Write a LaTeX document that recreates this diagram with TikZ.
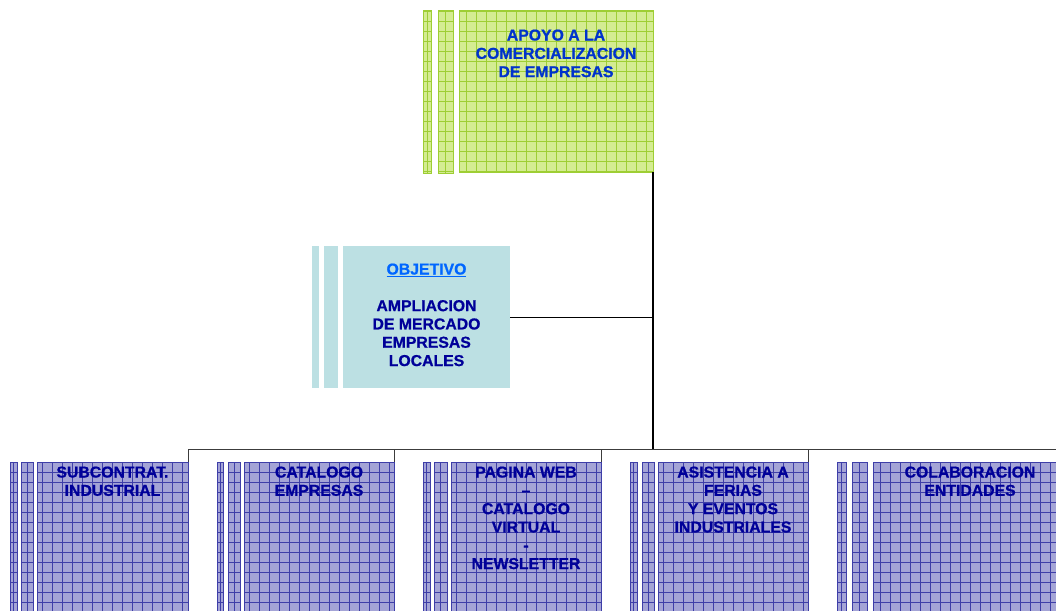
\documentclass[tikz,border=0pt]{standalone}
\usepackage{fontspec}
\setmainfont{Liberation Sans}
\definecolor{gfill}{RGB}{212,236,146}
\definecolor{gline}{RGB}{158,206,52}
\definecolor{pfill}{RGB}{164,164,214}
\definecolor{pline}{RGB}{62,62,168}
\definecolor{ofill}{RGB}{188,224,227}
\definecolor{toptxt}{RGB}{0,51,204}
\definecolor{navy}{RGB}{0,0,153}
\definecolor{objblue}{RGB}{0,102,255}
\definecolor{busgray}{RGB}{60,60,60}
\begin{document}
\begin{tikzpicture}[x=1pt,y=-1pt,
  base/.style={inner sep=0pt, outer sep=0pt, anchor=north west},
  gbox/.style={base, draw=gline, fill=gfill, line width=0.7pt,
    path picture={\draw[gline, line width=0.6pt, step=10pt]
      (path picture bounding box.south west) grid (path picture bounding box.north east);}},
  pbox/.style={base, draw=pline, fill=pfill, line width=0.7pt,
    path picture={\draw[pline, line width=0.5pt, step=10pt]
      (path picture bounding box.south west) grid (path picture bounding box.north east);}},
  obox/.style={base, fill=ofill},
  txt/.style={inner sep=0pt, outer sep=0pt, anchor=north, align=center,
    font=\fontsize{15.8}{18.3}\selectfont\bfseries\addfontfeature{FakeBold=0.8}},
  conn/.style={draw=busgray, line width=0.9pt},
]
\useasboundingbox (0,0) rectangle (1056,610);
\clip (0,0) rectangle (1056,610);

% top box
\node[gbox, minimum width=8pt, minimum height=163pt] (ts1) at (423,10) {};
\node[gbox, minimum width=15pt, minimum height=163pt] (ts2) at (438,10) {};
\node[gbox, minimum width=194pt, minimum height=162pt] (top) at (459,10) {};
\node[txt, text=toptxt] (toptext) at ([yshift=-19.5pt]top.north)
  {APOYO A LA\\COMERCIALIZACION\\DE EMPRESAS};

% objective box
\node[obox, minimum width=7pt, minimum height=142pt] (os1) at (312,246) {};
\node[obox, minimum width=14pt, minimum height=142pt] (os2) at (324,246) {};
\node[obox, minimum width=167pt, minimum height=142pt] (obj) at (343,246) {};
\node[txt, text=navy] (objtext) at ([yshift=-17.5pt]obj.north)
  {\textcolor{objblue}{\underline{OBJETIVO}}\\[18.3pt]AMPLIACION\\DE MERCADO\\EMPRESAS\\LOCALES};

% bottom boxes
\node[pbox, minimum width=7pt, minimum height=180pt] (b1s1) at (10,462) {};
\node[pbox, minimum width=12pt, minimum height=180pt] (b1s2) at (21,462) {};
\node[pbox, minimum width=151pt, minimum height=180pt] (b1) at (37,462) {};
\node[txt, text=navy] (b1t) at ([yshift=-4.5pt]b1.north) {SUBCONTRAT.\\INDUSTRIAL};

\node[pbox, minimum width=6pt, minimum height=180pt] (b2s1) at (217,462) {};
\node[pbox, minimum width=12pt, minimum height=180pt] (b2s2) at (228,462) {};
\node[pbox, minimum width=150pt, minimum height=180pt] (b2) at (244,462) {};
\node[txt, text=navy] (b2t) at ([yshift=-4.5pt]b2.north) {CATALOGO\\EMPRESAS};

\node[pbox, minimum width=7pt, minimum height=180pt] (b3s1) at (423,462) {};
\node[pbox, minimum width=13pt, minimum height=180pt] (b3s2) at (434,462) {};
\node[pbox, minimum width=150pt, minimum height=180pt] (b3) at (451,462) {};
\node[txt, text=navy] (b3t) at ([yshift=-4.5pt]b3.north) {PAGINA WEB\\–\\CATALOGO\\VIRTUAL\\-\\NEWSLETTER};

\node[pbox, minimum width=7pt, minimum height=180pt] (b4s1) at (630,462) {};
\node[pbox, minimum width=12pt, minimum height=180pt] (b4s2) at (642,462) {};
\node[pbox, minimum width=150pt, minimum height=180pt] (b4) at (658,462) {};
\node[txt, text=navy] (b4t) at ([yshift=-4.5pt]b4.north) {ASISTENCIA A\\FERIAS\\Y EVENTOS\\INDUSTRIALES};

\node[pbox, minimum width=9pt, minimum height=180pt] (b5s1) at (837,462) {};
\node[pbox, minimum width=15pt, minimum height=180pt] (b5s2) at (852,462) {};
\node[pbox, minimum width=194pt, minimum height=180pt] (b5) at (873,462) {};
\node[txt, text=navy] (b5t) at ([yshift=-4.5pt]b5.north) {COLABORACION\\ENTIDADES};

% connectors
\coordinate (busL) at (188,449);
\coordinate (busR) at (1056,449);
\draw[black, line width=1.3pt] (top.south east) -- (top.south east |- busL);
\draw[black, line width=0.8pt] (obj.east) -- (obj.east -| top.south east);
\draw[conn] (busL) -- (busR);
\draw[conn] (b1.north east |- busL) -- (b1.north east);
\draw[conn] (b2.north east |- busL) -- (b2.north east);
\draw[conn] (b3.north east |- busL) -- (b3.north east);
\draw[conn] (b4.north east |- busL) -- (b4.north east);
\end{tikzpicture}
\end{document}
